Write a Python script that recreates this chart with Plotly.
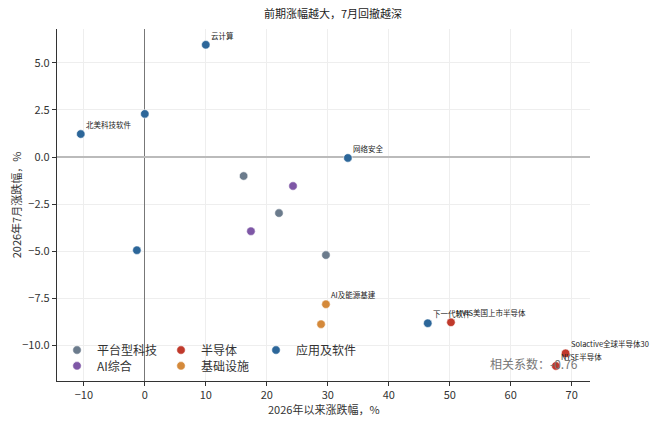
import plotly.graph_objects as go

# 各分组：名称、颜色、点坐标(年初至今涨跌幅, 7月涨跌幅)、标签
groups = ["平台型科技", "半导体", "应用及软件", "AI综合", "基础设施"]
colors = ["#6B7B8C", "#C0392B", "#2C6699", "#7E57A6", "#D4893A"]

platform_x = [16.2, 22.0, 29.7]
platform_y = [-1.01, -2.98, -5.21]
platform_lbl = ["", "", ""]

semi_x = [50.2, 69.0, 67.4]
semi_y = [-8.78, -10.43, -11.1]
semi_lbl = ["MVIS美国上市半导体", "Solactive全球半导体30", "NYSE半导体"]

soft_x = [-10.5, 0.0, 10.0, 33.3, -1.3, 46.4]
soft_y = [1.22, 2.29, 5.96, -0.05, -4.95, -8.83]
soft_lbl = ["北美科技软件", "", "云计算", "网络安全", "", "下一代软件"]

ai_x = [24.3, 17.4]
ai_y = [-1.54, -3.94]
ai_lbl = ["", ""]

infra_x = [29.7, 28.9]
infra_y = [-7.82, -8.88]
infra_lbl = ["AI及能源基建", ""]

series_x = [platform_x, semi_x, soft_x, ai_x, infra_x]
series_y = [platform_y, semi_y, soft_y, ai_y, infra_y]
series_lbl = [platform_lbl, semi_lbl, soft_lbl, ai_lbl, infra_lbl]
legend_ref = ["legend", "legend", "legend", "legend2", "legend2"]
legend_w = [59, 50, 60, 59, 50]

corr_text = "相关系数：-0.76"

FONT = "Noto Sans CJK SC"

fig = go.Figure()
annotations = []
for name, col, xs, ys, lbls, lg, lw in zip(groups, colors, series_x, series_y,
                                          series_lbl, legend_ref, legend_w):
    fig.add_trace(go.Scatter(
        x=xs, y=ys, mode="markers", name=name, legend=lg, legendwidth=lw,
        marker=dict(size=8.5, color=col, line=dict(width=0.6, color="white")),
    ))
    for x, y, t in zip(xs, ys, lbls):
        if t:
            annotations.append(dict(
                x=x, y=y, text=t, showarrow=False, xanchor="left", yanchor="bottom",
                xshift=3, yshift=2, font=dict(size=7.5, color="#222", family=FONT),
            ))

annotations.append(dict(
    x=0.981, y=0.02, xref="paper", yref="paper", text=corr_text, showarrow=False,
    xanchor="right", yanchor="bottom", font=dict(size=12, color="#777", family=FONT),
))
# x 轴标题
annotations.append(dict(
    x=0.5, y=0, xref="paper", yref="paper", yshift=-28, text="2026年以来涨跌幅，%",
    showarrow=False, xanchor="center", yanchor="middle",
    font=dict(size=11, color="#333", family=FONT),
))

axis_common = dict(
    showgrid=True, gridcolor="#EEEEEE", gridwidth=1,
    showline=True, linecolor="#333", linewidth=1.2,
    ticks="outside", ticklen=4, tickcolor="#333",
    tickfont=dict(size=11, color="#333", family=FONT),
    zeroline=True, automargin=False,
)

# 页面 body 自带 8px 边距，画布相应缩小
fig.update_layout(
    width=650, height=420,
    margin=dict(l=49, r=68, t=21, b=47),
    paper_bgcolor="white", plot_bgcolor="white",
    font=dict(family=FONT, color="#333"),
    title=dict(text="前期涨幅越大，7月回撤越深", x=0.5, xanchor="center",
               y=0.995, yanchor="top", font=dict(size=11, color="#222", family=FONT)),
    xaxis=dict(axis_common, range=[-14.4, 73], dtick=10,
               zerolinecolor="#777", zerolinewidth=1),
    yaxis=dict(axis_common, range=[-11.9, 6.8], dtick=2.5, tickformat=".1f",
               zerolinecolor="#BBBBBB", zerolinewidth=1.5,
               title=dict(text="2026年7月涨跌幅，%", font=dict(size=11))),
    legend=dict(orientation="h", x=0.0, xanchor="left", y=0.088, yanchor="middle",
                bgcolor="rgba(0,0,0,0)", font=dict(size=12, color="#333", family=FONT),
                itemsizing="trace"),
    legend2=dict(orientation="h", x=0.0, xanchor="left", y=0.043, yanchor="middle",
                 bgcolor="rgba(0,0,0,0)", font=dict(size=12, color="#333", family=FONT),
                 itemsizing="trace"),
    annotations=annotations,
    showlegend=True,
)

fig.write_html("out.html")
